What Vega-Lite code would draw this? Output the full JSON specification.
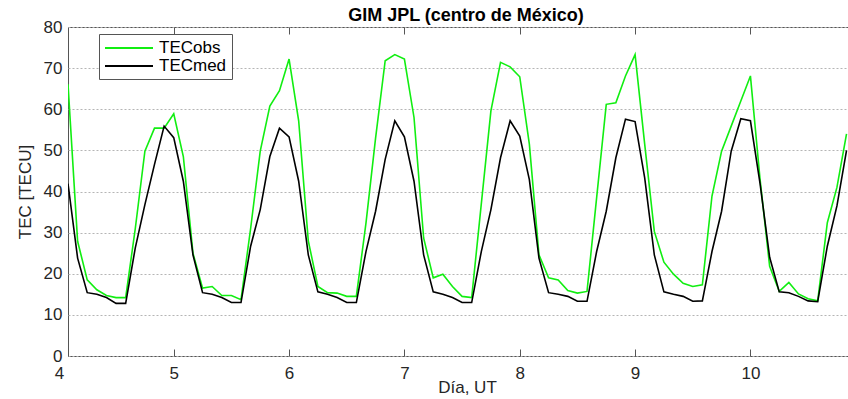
{
  "$schema": "https://vega.github.io/schema/vega-lite/v6.json",
  "autosize": "none",
  "width": 780,
  "height": 329,
  "padding": {"left": 68, "top": 27, "right": 0, "bottom": 43},
  "background": "white",
  "title": {"text": "GIM JPL (centro de México)", "font": "Liberation Sans", "fontSize": 18, "fontWeight": "bold", "color": "#000000", "offset": -7, "dx": 8},
  "config": {
    "view": {"stroke": "#555555", "strokeWidth": 1},
    "axis": {"labelFont": "Liberation Sans", "titleFont": "Liberation Sans", "labelFontSize": 17, "titleFontSize": 17, "labelColor": "#262626", "titleColor": "#262626", "titleFontWeight": "normal", "domainColor": "#555555", "tickColor": "#555555"}
  },
  "data": {"values": [
    {"t": 4.0833, "TECobs": 66.1, "TECmed": 41.9},
    {"t": 4.1667, "TECobs": 27.9, "TECmed": 23.8},
    {"t": 4.25, "TECobs": 18.5, "TECmed": 15.4},
    {"t": 4.3333, "TECobs": 16.1, "TECmed": 15.0},
    {"t": 4.4167, "TECobs": 14.7, "TECmed": 14.2},
    {"t": 4.5, "TECobs": 14.2, "TECmed": 12.8},
    {"t": 4.5833, "TECobs": 14.2, "TECmed": 12.8},
    {"t": 4.6667, "TECobs": 31, "TECmed": 26.3},
    {"t": 4.75, "TECobs": 49.8, "TECmed": 36.8},
    {"t": 4.8333, "TECobs": 55.4, "TECmed": 46.6},
    {"t": 4.9167, "TECobs": 55.4, "TECmed": 55.9},
    {"t": 5.0, "TECobs": 58.9, "TECmed": 53.1},
    {"t": 5.0833, "TECobs": 48.5, "TECmed": 42.5},
    {"t": 5.1667, "TECobs": 25, "TECmed": 24.6},
    {"t": 5.25, "TECobs": 16.5, "TECmed": 15.4},
    {"t": 5.3333, "TECobs": 16.9, "TECmed": 15.0},
    {"t": 5.4167, "TECobs": 14.7, "TECmed": 14.2},
    {"t": 5.5, "TECobs": 14.7, "TECmed": 13.0},
    {"t": 5.5833, "TECobs": 13.7, "TECmed": 13.0},
    {"t": 5.6667, "TECobs": 31, "TECmed": 26.7},
    {"t": 5.75, "TECobs": 49.8, "TECmed": 35.6},
    {"t": 5.8333, "TECobs": 60.8, "TECmed": 48.5},
    {"t": 5.9167, "TECobs": 64.5, "TECmed": 55.4},
    {"t": 6.0, "TECobs": 72.2, "TECmed": 53.3},
    {"t": 6.0833, "TECobs": 57.2, "TECmed": 42.5},
    {"t": 6.1667, "TECobs": 28, "TECmed": 24.6},
    {"t": 6.25, "TECobs": 16.9, "TECmed": 15.6},
    {"t": 6.3333, "TECobs": 15.4, "TECmed": 15.0},
    {"t": 6.4167, "TECobs": 15.3, "TECmed": 14.2},
    {"t": 6.5, "TECobs": 14.5, "TECmed": 13.0},
    {"t": 6.5833, "TECobs": 14.5, "TECmed": 13.0},
    {"t": 6.6667, "TECobs": 32.3, "TECmed": 25.4},
    {"t": 6.75, "TECobs": 53, "TECmed": 35.2},
    {"t": 6.8333, "TECobs": 71.8, "TECmed": 47.8},
    {"t": 6.9167, "TECobs": 73.3, "TECmed": 57.2},
    {"t": 7.0, "TECobs": 72.2, "TECmed": 53.3},
    {"t": 7.0833, "TECobs": 58, "TECmed": 42.5},
    {"t": 7.1667, "TECobs": 28.7, "TECmed": 24.6},
    {"t": 7.25, "TECobs": 19.0, "TECmed": 15.6},
    {"t": 7.3333, "TECobs": 19.9, "TECmed": 15.0},
    {"t": 7.4167, "TECobs": 16.9, "TECmed": 14.2},
    {"t": 7.5, "TECobs": 14.5, "TECmed": 13.0},
    {"t": 7.5833, "TECobs": 14.2, "TECmed": 13.0},
    {"t": 7.6667, "TECobs": 37, "TECmed": 25.4},
    {"t": 7.75, "TECobs": 59.6, "TECmed": 35.6},
    {"t": 7.8333, "TECobs": 71.4, "TECmed": 48.2},
    {"t": 7.9167, "TECobs": 70.3, "TECmed": 57.2},
    {"t": 8.0, "TECobs": 67.9, "TECmed": 53.5},
    {"t": 8.0833, "TECobs": 51.5, "TECmed": 42.9},
    {"t": 8.1667, "TECobs": 24.6, "TECmed": 23.8},
    {"t": 8.25, "TECobs": 19.0, "TECmed": 15.4},
    {"t": 8.3333, "TECobs": 18.5, "TECmed": 15.0},
    {"t": 8.4167, "TECobs": 15.9, "TECmed": 14.5},
    {"t": 8.5, "TECobs": 15.3, "TECmed": 13.3},
    {"t": 8.5833, "TECobs": 15.7, "TECmed": 13.3},
    {"t": 8.6667, "TECobs": 38.5, "TECmed": 25.4},
    {"t": 8.75, "TECobs": 61.2, "TECmed": 35.2},
    {"t": 8.8333, "TECobs": 61.6, "TECmed": 48.2},
    {"t": 8.9167, "TECobs": 68.1, "TECmed": 57.6},
    {"t": 9.0, "TECobs": 73.3, "TECmed": 57.0},
    {"t": 9.0833, "TECobs": 51.5, "TECmed": 43.3},
    {"t": 9.1667, "TECobs": 30.3, "TECmed": 24.6},
    {"t": 9.25, "TECobs": 22.8, "TECmed": 15.6},
    {"t": 9.3333, "TECobs": 19.9, "TECmed": 15.0},
    {"t": 9.4167, "TECobs": 17.7, "TECmed": 14.5},
    {"t": 9.5, "TECobs": 16.9, "TECmed": 13.3},
    {"t": 9.5833, "TECobs": 17.3, "TECmed": 13.4},
    {"t": 9.6667, "TECobs": 38.9, "TECmed": 25.4},
    {"t": 9.75, "TECobs": 49.8, "TECmed": 35.2},
    {"t": 9.8333, "TECobs": 55.9, "TECmed": 49.8},
    {"t": 9.9167, "TECobs": 62.0, "TECmed": 57.7},
    {"t": 10.0, "TECobs": 68.1, "TECmed": 57.2},
    {"t": 10.0833, "TECobs": 43, "TECmed": 42},
    {"t": 10.1667, "TECobs": 21.8, "TECmed": 24},
    {"t": 10.25, "TECobs": 15.7, "TECmed": 15.6},
    {"t": 10.3333, "TECobs": 17.9, "TECmed": 15.4},
    {"t": 10.4167, "TECobs": 15.1, "TECmed": 14.5},
    {"t": 10.5, "TECobs": 13.9, "TECmed": 13.4},
    {"t": 10.5833, "TECobs": 13.4, "TECmed": 13.2},
    {"t": 10.6667, "TECobs": 32.4, "TECmed": 26.7},
    {"t": 10.75, "TECobs": 41, "TECmed": 36.5},
    {"t": 10.8333, "TECobs": 54, "TECmed": 50}
  ]},
  "transform": [{"fold": ["TECobs", "TECmed"], "as": ["serie", "TEC"]}],
  "resolve": {"axis": {"x": "independent"}},
  "layer": [
    {
      "mark": {"type": "line", "strokeWidth": 1.6, "clip": true},
      "encoding": {
        "x": {"field": "t", "type": "quantitative", "scale": {"domain": [4.0833, 10.846], "nice": false, "zero": false},
          "axis": {"orient": "bottom", "values": [4.0833, 5, 6, 7, 8, 9, 10], "labelExpr": "datum.value < 4.5 ? '4' : format(datum.value, 'd')", "labelFlush": false, "labelOffset": {"condition": {"test": "datum.value < 4.5", "value": -9}, "value": 0}, "tickSize": -7, "labelPadding": 16, "grid": false, "title": "Día, UT", "titleX": 399, "titlePadding": -2, "domain": false}},
        "y": {"field": "TEC", "type": "quantitative", "scale": {"domain": [0, 80], "nice": false},
          "axis": {"values": [0, 10, 20, 30, 40, 50, 60, 70, 80], "grid": true, "gridDash": [2, 2], "gridColor": "#b5b5b5", "gridWidth": 1, "tickSize": 0, "labelPadding": 6, "title": "TEC [TECU]", "titlePadding": 9, "domain": false}},
        "color": {"field": "serie", "type": "nominal", "scale": {"domain": ["TECobs", "TECmed"], "range": ["#11ee11", "#000000"]},
          "legend": {"orient": "none", "legendX": 31, "legendY": 7, "title": null, "strokeColor": "#555555", "fillColor": "#ffffff", "padding": 5, "symbolType": "M-1,0H5", "symbolSize": 256, "symbolStrokeWidth": 1.8, "labelOffset": 37, "labelFont": "Liberation Sans", "labelFontSize": 17, "labelColor": "#000000", "rowPadding": 1, "cornerRadius": 0}},
        "order": {"field": "t", "type": "quantitative"}
      }
    },
    {
      "mark": {"type": "point", "opacity": 0},
      "encoding": {
        "x": {"field": "t", "type": "quantitative",
          "axis": {"orient": "top", "values": [5, 6, 7, 8, 9, 10], "labels": false, "tickSize": -7, "grid": false, "title": null, "domain": false}},
        "y": {"field": "TEC", "type": "quantitative"}
      }
    }
  ]
}
